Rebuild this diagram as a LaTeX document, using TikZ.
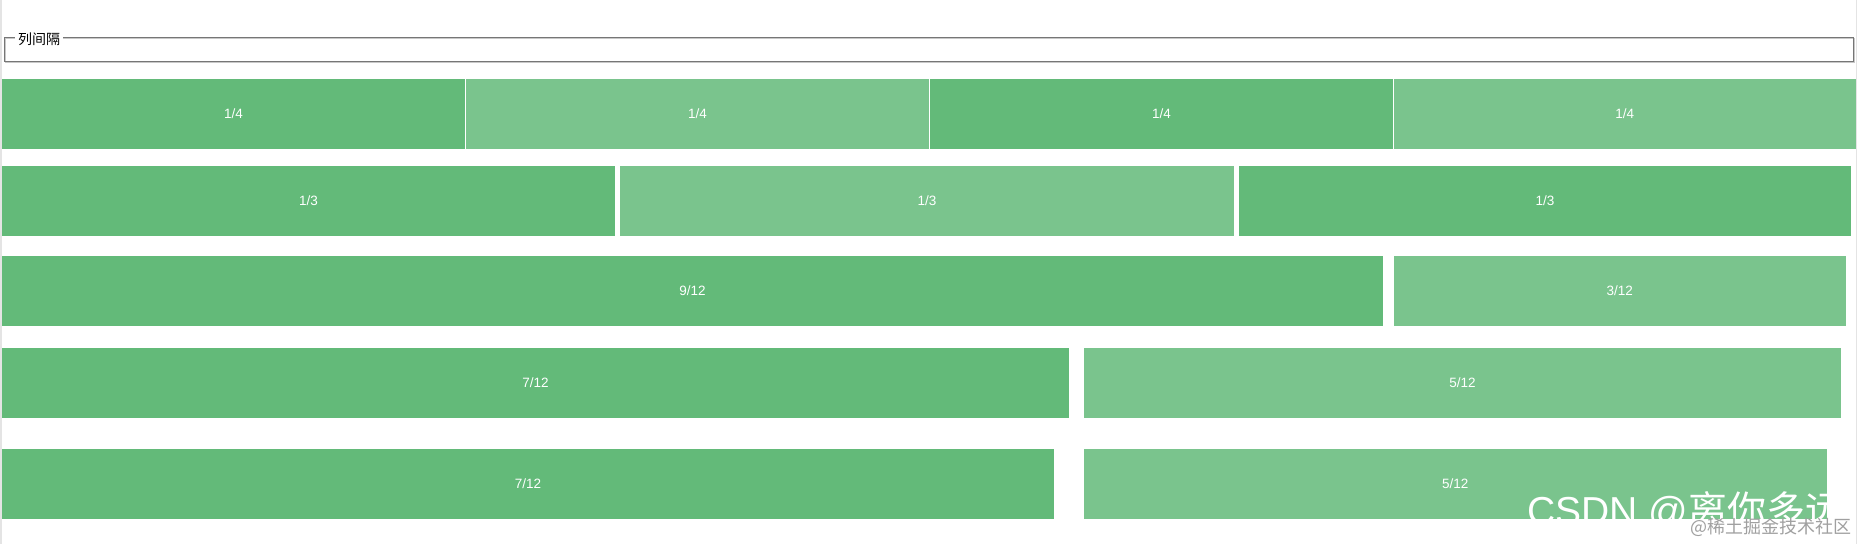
\documentclass[tikz,border=0pt]{standalone}
\usepackage{fontspec}
\setmainfont{Liberation Sans}
\newfontfamily\cjk{Noto Sans CJK SC}
\definecolor{gdark}{RGB}{99,186,121}
\definecolor{glight}{RGB}{122,196,141}
\definecolor{fsdark}{RGB}{118,118,118}
\definecolor{fslight}{RGB}{200,200,200}
\definecolor{edge}{RGB}{228,228,228}
\definecolor{wmgray}{RGB}{160,160,160}
\begin{document}
\begin{tikzpicture}[x=1pt,y=-1pt,
  cell/.style={inner sep=0pt, outer sep=0pt, anchor=north west, minimum height=70pt,
    text=white, font=\fontsize{13.5}{16}\selectfont},
  dk/.style={cell, fill=gdark},
  lt/.style={cell, fill=glight}]
\useasboundingbox[fill=white] (0,0) rectangle (1858,544);
% page edges
\draw[edge, line width=1.2pt] (1,0) -- (1,544);
\draw[edge, line width=1.2pt] (1856.5,0) -- (1856.5,544);
% fieldset (groove border)
\draw[fslight, line width=1pt] (5.5,38.5) rectangle (1854.5,62.5);
\draw[fsdark, line width=1pt] (4.5,37.5) rectangle (1853.5,61.5);
\node[fill=white, inner xsep=3pt, inner ysep=1pt, anchor=west,
  font=\cjk\fontsize{14}{16}\selectfont] (legend) at (15,39.5) {列间隔};
% row 1
\node[dk, minimum width=463pt] (a1) at (2,79) {1/4};
\node[lt, minimum width=463pt] (a2) at (466,79) {1/4};
\node[dk, minimum width=463pt] (a3) at (930,79) {1/4};
\node[lt, minimum width=462.5pt] (a4) at (1393.5,79) {1/4};
% row 2
\node[dk, minimum width=613pt] (b1) at (2,166) {1/3};
\node[lt, minimum width=614pt] (b2) at (620,166) {1/3};
\node[dk, minimum width=612pt] (b3) at (1239,166) {1/3};
% row 3
\node[dk, minimum width=1381pt] (c1) at (2,256) {9/12};
\node[lt, minimum width=452.5pt] (c2) at (1393.5,256) {3/12};
% row 4
\node[dk, minimum width=1067pt] (d1) at (2,348) {7/12};
\node[lt, minimum width=757pt] (d2) at (1084,348) {5/12};
% row 5
\node[dk, minimum width=1052pt] (e1) at (2,449) {7/12};
\node[lt, minimum width=742.5pt] (e2) at (1084,449) {5/12};
% watermarks
\begin{scope}
  \clip (e2.north west) rectangle (e2.south east);
  \node[anchor=base west, inner sep=0pt, text=white,
    font=\fontsize{39}{42}\selectfont] (wm1) at (1527,524) {CSDN @{\cjk 离你多远}};
\end{scope}
\node[anchor=base east, inner sep=0pt, text=wmgray,
  font=\cjk\fontsize{18}{20}\selectfont] (wm2) at (1852,533.5) {@稀土掘金技术社区};
\end{tikzpicture}
\end{document}
